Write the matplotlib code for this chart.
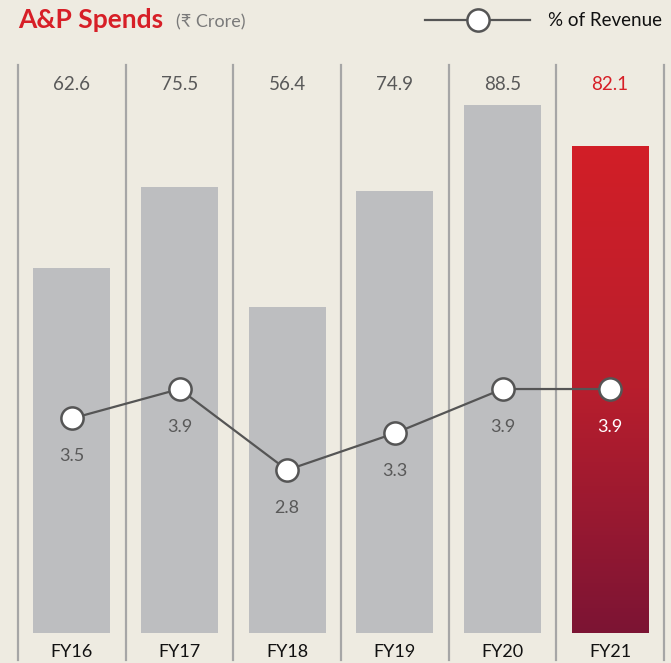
import numpy as np
import matplotlib
matplotlib.use("Agg")
import matplotlib.pyplot as plt
from matplotlib.colors import LinearSegmentedColormap

# data
years = ["FY16", "FY17", "FY18", "FY19", "FY20", "FY21"]
spends = [62.6, 75.5, 56.4, 74.9, 88.5, 82.1]
pct_revenue = [3.5, 3.9, 2.8, 3.3, 3.9, 3.9]

bg = "#eeebe1"
grey_bar = "#bdbec0"
red = "#d71f27"
fonts = ["Lato", "DejaVu Sans"]
plt.rcParams["font.family"] = fonts

fig = plt.figure(figsize=(6.71, 6.63), dpi=100, facecolor=bg)
ax = fig.add_axes([18 / 671, 30 / 663, 646 / 671, 568 / 663])
ax.set_facecolor(bg)
x = np.arange(len(years))

bars = ax.bar(x, spends, width=0.715, color=grey_bar, zorder=2)

# last bar: red gradient
last = bars[-1]
last.set_facecolor("none")
cmap = LinearSegmentedColormap.from_list("rg", ["#7c1434", "#b81e2d", "#d21f27"])
grad = np.linspace(0, 1, 256).reshape(-1, 1)
im = ax.imshow(grad, cmap=cmap, aspect="auto", origin="lower",
               extent=[x[-1] - 0.3575, x[-1] + 0.3575, 4.6, spends[-1]], zorder=2)
im.set_clip_path(last)

ax.set_xlim(-0.5, 5.5)
ax.set_ylim(4.6, 94.9)
for s in ax.spines.values():
    s.set_visible(False)
ax.set_xticks([])
ax.set_yticks([])

# column separators
for b in np.arange(-0.5, 6, 1):
    ax.axvline(b, ymin=-0.048, ymax=1, color="#a6a6a6", lw=1.6, clip_on=False, zorder=1)

# value labels on top
for i, v in enumerate(spends):
    ax.text(i, 0.965, f"{v:.1f}", transform=ax.get_xaxis_transform(), ha="center", va="center",
            fontsize=13.5, color=red if i == len(spends) - 1 else "#595959")
    ax.text(i, -0.034, years[i], transform=ax.get_xaxis_transform(), ha="center", va="center",
            fontsize=13, color="#111111")

# % of revenue line
ax2 = ax.twinx()
ax2.set_ylim(0.587, 8.30)
ax2.axis("off")
ax2.plot(x, pct_revenue, color="#555555", lw=1.6, marker="o", markersize=16,
         markerfacecolor="white", markeredgecolor="#555555", markeredgewidth=1.8, zorder=3)
for i, p in enumerate(pct_revenue):
    ax2.annotate(f"{p:.1f}", (i, p), xytext=(0, -27), textcoords="offset points",
                 ha="center", va="center", fontsize=13,
                 color="white" if i == len(pct_revenue) - 1 else "#595959")

# title
fig.text(18 / 671, 1 - 20 / 663, "A&P Spends", fontsize=19, fontweight="bold", color=red,
         ha="left", va="center")
fig.text(176 / 671, 1 - 22 / 663, "(₹ Crore)", fontsize=13, color="#7a7a7a",
         ha="left", va="center", family=fonts)

# legend
fig.add_artist(plt.Line2D([425 / 671, 530 / 671], [1 - 20 / 663] * 2, color="#555555", lw=1.6))
fig.add_artist(plt.Line2D([478 / 671], [1 - 20 / 663], marker="o", markersize=16,
                          markerfacecolor="white", markeredgecolor="#555555", markeredgewidth=1.8))
fig.text(548 / 671, 1 - 20 / 663, "% of Revenue", fontsize=13.5, color="#111111",
         ha="left", va="center")

fig.savefig("out.png", dpi=100, facecolor=bg)
